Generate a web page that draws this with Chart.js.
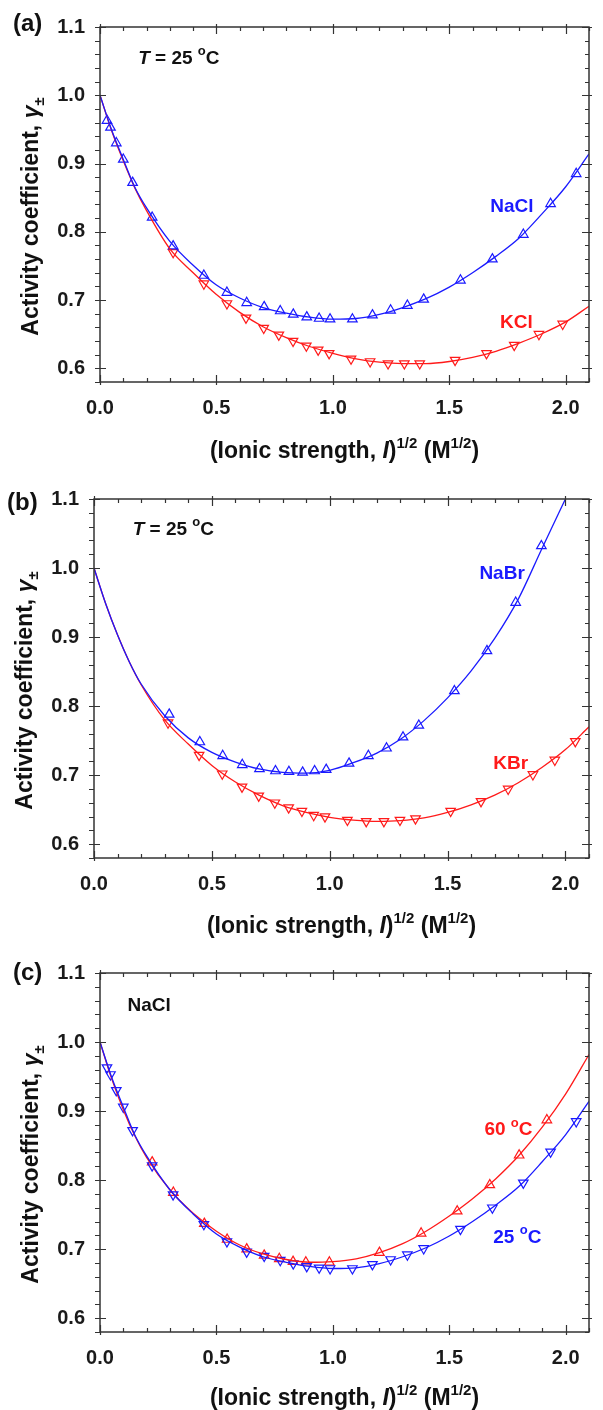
<!DOCTYPE html>
<html>
<head>
<meta charset="utf-8">
<script src="https://cdn.jsdelivr.net/npm/chart.js@4.4.1/dist/chart.umd.min.js"></script>
<style>
  html, body { margin: 0; padding: 0; background: #fff; }
  body { width: 603px; height: 1410px; position: relative; overflow: hidden; }
  canvas { position: absolute; left: 0; }
</style>
</head>
<body>
<canvas id="panelA" width="603" height="470" style="top:0px"></canvas>
<canvas id="panelB" width="603" height="480" style="top:460px"></canvas>
<canvas id="panelC" width="603" height="480" style="top:930px"></canvas>
<script>
const FONT = "'Liberation Sans', Arial, Helvetica, sans-serif";
const BLUE = '#1a1aff';
const RED = '#ff1a1a';

// tick labels
const xTickLabels = ['0.0', '0.5', '1.0', '1.5', '2.0'];
const yTickLabels = ['0.6', '0.7', '0.8', '0.9', '1.0', '1.1'];

const fitX = [0, 0.05, 0.1, 0.15, 0.2, 0.3, 0.4, 0.5, 0.6, 0.7, 0.8, 0.9, 1.0,
              1.1, 1.2, 1.3, 1.4, 1.5, 1.6, 1.7, 1.8, 1.9, 2.0, 2.1];

// NaCl, 25 C  (panels a and c)
const nacl25X = [0.03, 0.045, 0.07, 0.10, 0.14, 0.224, 0.314, 0.446, 0.545, 0.63, 0.705, 0.774, 0.83,
                 0.888, 0.941, 0.988, 1.084, 1.17, 1.248, 1.32, 1.39, 1.548, 1.685, 1.818, 1.935, 2.045];
const nacl25Y = [0.963, 0.953, 0.930, 0.906, 0.872, 0.821, 0.779, 0.736, 0.711, 0.696, 0.690, 0.684, 0.679,
                 0.675, 0.673, 0.672, 0.672, 0.678, 0.685, 0.692, 0.701, 0.729, 0.760, 0.796, 0.841, 0.885];
const nacl25Fit = [1.000, 0.949, 0.906, 0.865, 0.835, 0.786, 0.751, 0.722, 0.703, 0.689, 0.681, 0.675, 0.672,
                   0.673, 0.679, 0.689, 0.702, 0.719, 0.740, 0.764, 0.791, 0.827, 0.866, 0.914];

// KCl, 25 C
const kcl25X = [0.314, 0.446, 0.545, 0.627, 0.703, 0.768, 0.829, 0.886, 0.937, 0.984, 1.078, 1.16, 1.237,
                1.307, 1.373, 1.525, 1.66, 1.779, 1.885, 1.987];
const kcl25Y = [0.770, 0.724, 0.695, 0.674, 0.659, 0.649, 0.640, 0.633, 0.627, 0.622, 0.614, 0.610, 0.607,
                0.607, 0.607, 0.612, 0.622, 0.634, 0.650, 0.665];
const kcl25Fit = [1.000, 0.948, 0.904, 0.864, 0.831, 0.775, 0.740, 0.708, 0.682, 0.661, 0.645, 0.632, 0.622,
                  0.614, 0.609, 0.607, 0.607, 0.610, 0.616, 0.625, 0.637, 0.651, 0.668, 0.691];

// NaBr, 25 C
const nabrX = [0.319, 0.449, 0.546, 0.629, 0.702, 0.770, 0.827, 0.885, 0.936, 0.985, 1.082, 1.164, 1.241,
               1.311, 1.378, 1.529, 1.667, 1.789, 1.898];
const nabrY = [0.788, 0.748, 0.728, 0.715, 0.709, 0.706, 0.705, 0.704, 0.706, 0.708, 0.717, 0.728, 0.739,
               0.755, 0.772, 0.822, 0.880, 0.950, 1.032];
const nabrFit = [1.000, 0.948, 0.903, 0.864, 0.832, 0.786, 0.754, 0.733, 0.719, 0.709, 0.704, 0.703, 0.707,
                 0.718, 0.732, 0.752, 0.779, 0.812, 0.851, 0.898, 0.955, 1.028, 1.100];

// KBr, 25 C
const kbrX = [0.314, 0.446, 0.544, 0.628, 0.699, 0.767, 0.826, 0.882, 0.932, 0.980, 1.075, 1.155, 1.230,
              1.298, 1.364, 1.513, 1.642, 1.757, 1.862, 1.955, 2.042];
const kbrY = [0.776, 0.729, 0.702, 0.683, 0.670, 0.660, 0.653, 0.648, 0.642, 0.640, 0.635, 0.633, 0.633,
              0.635, 0.637, 0.648, 0.662, 0.680, 0.701, 0.722, 0.749];
const kbrFit = [1.000, 0.948, 0.903, 0.864, 0.831, 0.780, 0.745, 0.714, 0.690, 0.671, 0.656, 0.646, 0.639,
                0.635, 0.633, 0.634, 0.638, 0.646, 0.657, 0.671, 0.689, 0.711, 0.737, 0.770];

// NaCl, 60 C
const nacl60X = [0.224, 0.315, 0.448, 0.546, 0.630, 0.705, 0.770, 0.829, 0.884, 0.985, 1.200, 1.379,
                 1.534, 1.674, 1.800, 1.919];
const nacl60Y = [0.826, 0.782, 0.737, 0.714, 0.700, 0.691, 0.686, 0.682, 0.681, 0.681, 0.695, 0.723,
                 0.755, 0.793, 0.836, 0.887];
const nacl60Fit = [1.000, 0.947, 0.902, 0.864, 0.833, 0.786, 0.752, 0.726, 0.706, 0.693, 0.685, 0.681, 0.682,
                   0.686, 0.695, 0.708, 0.726, 0.748, 0.773, 0.802, 0.836, 0.877, 0.925, 0.982];

const isMult = (v, step) => Math.abs(v / step - Math.round(v / step)) < 1e-6;
const pts = (xs, ys) => ys.map((y, i) => ({ x: xs[i], y }));

const curve = (ys, color) => ({
  data: pts(fitX, ys), showLine: true, borderColor: color, borderWidth: 1.3,
  pointRadius: 0, pointHoverRadius: 0, cubicInterpolationMode: 'monotone', fill: false
});
const marks = (xs, ys, color, flip) => ({
  data: pts(xs, ys), showLine: false, pointStyle: 'triangle', pointRadius: 5.5, pointHoverRadius: 5.5,
  pointRotation: flip ? 180 : 0, pointBorderColor: color, pointBackgroundColor: 'rgba(0,0,0,0)',
  pointBorderWidth: 1.2
});

// bold text made of pieces: [text, flags]  i = italic, ^ = superscript, _ = subscript
function drawRich(ctx, parts, x, y, size, color, align) {
  const fontOf = f => (f.includes('i') ? 'italic ' : '') + 'bold ' +
    ((f.includes('^') || f.includes('_')) ? Math.round(size * 0.66) : size) + 'px ' + FONT;
  let w = 0;
  parts.forEach(([t, f = '']) => { ctx.font = fontOf(f); w += ctx.measureText(t).width; });
  let cx = align === 'center' ? x - w / 2 : align === 'right' ? x - w : x;
  ctx.fillStyle = color;
  ctx.textAlign = 'left';
  ctx.textBaseline = 'alphabetic';
  parts.forEach(([t, f = '']) => {
    ctx.font = fontOf(f);
    const dy = f.includes('^') ? -size * 0.45 : f.includes('_') ? size * 0.25 : 0;
    ctx.fillText(t, cx, y + dy);
    cx += ctx.measureText(t).width;
  });
}

const yTitle = [['Activity coefficient, '], ['\u03b3', 'i'], ['\u00b1', '_']];
const xTitle = [['(Ionic strength, '], ['I', 'i'], [')'], ['1/2', '^'], [' (M'], ['1/2', '^'], [')']];
const temp25 = [['T', 'i'], [' = 25 '], ['o', '^'], ['C']];

function drawFrame(chart) {
  const { ctx, chartArea: a, scales: { x, y } } = chart;
  ctx.save();
  ctx.strokeStyle = '#333';
  ctx.lineWidth = 1.5;
  ctx.strokeRect(a.left, a.top, a.right - a.left, a.bottom - a.top);
  ctx.lineWidth = 1.2;
  ctx.beginPath();
  x.ticks.forEach(t => {
    const px = Math.round(x.getPixelForValue(t.value)) + 0.5;
    const major = isMult(t.value, 0.5);
    const inL = major ? 7 : 4, outL = major ? 3 : 0;
    ctx.moveTo(px, a.bottom + outL); ctx.lineTo(px, a.bottom - inL);
    ctx.moveTo(px, a.top - outL); ctx.lineTo(px, a.top + inL);
  });
  y.ticks.forEach(t => {
    const py = Math.round(y.getPixelForValue(t.value)) + 0.5;
    const major = isMult(t.value, 0.1);
    ctx.moveTo(a.left - 5, py); ctx.lineTo(a.left + (major ? 6 : 0), py);
    ctx.moveTo(a.right + (major ? 3 : 0), py); ctx.lineTo(a.right - (major ? 7 : 4), py);
  });
  ctx.stroke();
  ctx.restore();
}

function makePanel(id, cfg) {
  const deco = {
    id: 'deco',
    afterDatasetsDraw(chart) { drawFrame(chart); },
    afterDraw(chart) {
      const { ctx, chartArea: a, scales: { x, y } } = chart;
      ctx.save();
      // panel letter
      ctx.font = 'bold 24px ' + FONT;
      ctx.fillStyle = '#111';
      ctx.textAlign = 'left';
      ctx.textBaseline = 'middle';
      ctx.fillText(cfg.letter, cfg.letterX, cfg.letterY);
      // axis titles
      drawRich(ctx, xTitle, (a.left + a.right) / 2, a.bottom + cfg.titleGap, 23, '#111', 'center');
      ctx.save();
      ctx.translate(a.left - 70, (a.top + a.bottom) / 2 + 12);
      ctx.rotate(-Math.PI / 2);
      drawRich(ctx, yTitle, 0, 8, 23, '#111', 'center');
      ctx.restore();
      // in-plot labels
      cfg.notes.forEach(n => {
        drawRich(ctx, n.parts, x.getPixelForValue(n.x), y.getPixelForValue(n.y), 19, n.color, 'left');
      });
      ctx.restore();
    }
  };
  return new Chart(document.getElementById(id), {
    type: 'scatter',
    data: { datasets: cfg.datasets },
    options: {
      responsive: false,
      animation: false,
      events: [],
      layout: { padding: { top: cfg.top, right: cfg.right, left: 0, bottom: 0 } },
      plugins: { legend: { display: false }, tooltip: { enabled: false } },
      scales: {
        x: {
          type: 'linear', min: 0, max: 2.1,
          grid: { display: false, drawTicks: false },
          border: { display: false },
          ticks: {
            stepSize: 0.1, padding: 14, autoSkip: false, maxRotation: 0,
            color: '#1a1a1a', font: { family: FONT, size: 20, weight: 'bold' },
            callback: v => xTickLabels.includes(v.toFixed(1)) && isMult(v, 0.5) ? v.toFixed(1) : ''
          },
          afterFit: s => { s.height = cfg.xh; }
        },
        y: {
          type: 'linear', min: 0.58, max: 1.1,
          grid: { display: false, drawTicks: false },
          border: { display: false },
          ticks: {
            stepSize: 0.02, padding: 15, autoSkip: false,
            color: '#1a1a1a', font: { family: FONT, size: 20, weight: 'bold' },
            callback: v => yTickLabels.includes(v.toFixed(1)) && isMult(v, 0.1) ? v.toFixed(1) : ''
          },
          afterFit: s => { s.width = cfg.yw; }
        }
      }
    },
    plugins: [deco]
  });
}

makePanel('panelA', {
  top: 23, right: 3, yw: 100, xh: 88, titleGap: 76,
  letter: '(a)', letterX: 13, letterY: 24,
  datasets: [
    curve(nacl25Fit, BLUE), curve(kcl25Fit, RED),
    marks(nacl25X, nacl25Y, BLUE, false), marks(kcl25X, kcl25Y, RED, true)
  ],
  notes: [
    { parts: temp25, x: 0.164, y: 1.046, color: '#111' },
    { parts: [['NaCl']], x: 1.676, y: 0.829, color: BLUE },
    { parts: [['KCl']], x: 1.718, y: 0.659, color: RED }
  ]
});

makePanel('panelB', {
  top: 39, right: 8, yw: 94, xh: 82, titleGap: 75,
  letter: '(b)', letterX: 7, letterY: 43,
  datasets: [
    curve(nabrFit, BLUE), curve(kbrFit, RED),
    marks(nabrX, nabrY, BLUE, false), marks(kbrX, kbrY, RED, true)
  ],
  notes: [
    { parts: temp25, x: 0.164, y: 1.048, color: '#111' },
    { parts: [['NaBr']], x: 1.635, y: 0.984, color: BLUE },
    { parts: [['KBr']], x: 1.694, y: 0.709, color: RED }
  ]
});

makePanel('panelC', {
  top: 43, right: 2, yw: 100, xh: 78, titleGap: 73,
  letter: '(c)', letterX: 13, letterY: 43,
  datasets: [
    curve(nacl25Fit, BLUE), curve(nacl60Fit, RED),
    marks(nacl25X, nacl25Y, BLUE, true), marks(nacl60X, nacl60Y, RED, false)
  ],
  notes: [
    { parts: [['NaCl']], x: 0.118, y: 1.045, color: '#111' },
    { parts: [['60 '], ['o', '^'], ['C']], x: 1.651, y: 0.865, color: RED },
    { parts: [['25 '], ['o', '^'], ['C']], x: 1.689, y: 0.709, color: BLUE }
  ]
});
</script>
</body>
</html>
